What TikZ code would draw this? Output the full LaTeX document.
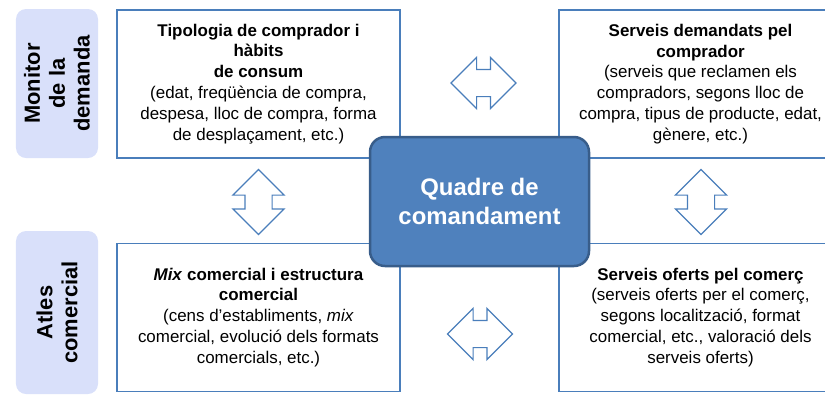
\documentclass[tikz,border=0pt]{standalone}
\usepackage{fontspec}
\setmainfont{Liberation Sans}
\usetikzlibrary{shapes.arrows}
\definecolor{boxblue}{RGB}{74,126,187}
\definecolor{quadfill}{RGB}{79,129,189}
\definecolor{quaddraw}{RGB}{56,93,138}
\definecolor{labelfill}{RGB}{217,224,250}
\begin{document}
\begin{tikzpicture}[x=1bp,y=-1bp]
\tikzset{info box/.style={draw=boxblue,line width=1.2bp,fill=white,minimum width=283bp,
         minimum height=148bp,align=center,inner sep=0pt,font=\fontsize{17}{21}\selectfont}}
\tikzset{side label/.style={fill=labelfill,rounded corners=10bp,rotate=90,minimum width=#1,
         minimum height=82bp,align=center,inner sep=0pt,font=\bfseries\fontsize{22}{25}\selectfont}}
\tikzset{link arrow/.style={double arrow,draw=boxblue,line width=1.2bp,fill=white,inner xsep=0pt,
         inner ysep=13bp,minimum height=65bp,minimum width=50bp,double arrow head extend=12bp}}
\useasboundingbox (0,0) rectangle (825,395);

\node [side label=149bp] (monitor) at (57,83.5) {Monitor\\de la\\demanda};
\node [side label=163bp] (atles) at (57,312.5) {Atles\\comercial};

\node [info box] (tipologia) at (258.5,84) {\textbf{Tipologia de comprador i}\\\textbf{hàbits}\\\textbf{de consum}\\
  (edat, freqüència de compra,\\despesa, lloc de compra, forma\\de desplaçament, etc.)};
\node [info box] (demandats) at (700.5,84) {\textbf{Serveis demandats pel}\\\textbf{comprador}\\
  (serveis que reclamen els\\compradors, segons lloc de\\compra, tipus de producte, edat,\\gènere, etc.)};
\node [info box] (mix) at (258.5,317.5) {\textbf{\textit{Mix} comercial i estructura}\\\textbf{comercial}\\
  (cens d’establiments, \textit{mix}\\comercial, evolució dels formats\\comercials, etc.)};
\node [info box] (oferts) at (700.5,317.5) {\textbf{Serveis oferts pel comerç}\\
  (serveis oferts per el comerç,\\segons localització, format\\comercial, etc., valoració dels\\serveis oferts)};

\node [draw=quaddraw,line width=2.5bp,fill=quadfill,rounded corners=15bp,minimum width=219bp,
  minimum height=129bp,align=center,text=white,font=\bfseries\fontsize{24}{30}\selectfont]
  (quadre) at (479.5,201.5) {Quadre de\\comandament};

\node [link arrow] (dalt) at (483.5,83) {};
\node [link arrow] (baix) at (480,334) {};
\node [link arrow,rotate=90] (esquerra) at (258.5,202) {};
\node [link arrow,rotate=90] (dreta) at (701,202) {};
\end{tikzpicture}
\end{document}
